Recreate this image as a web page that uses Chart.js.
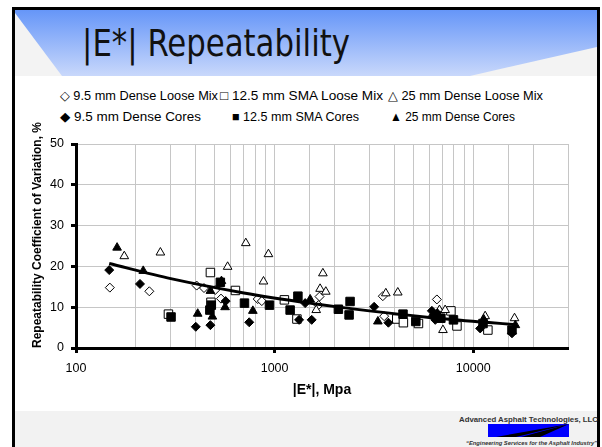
<!DOCTYPE html>
<html><head><meta charset="utf-8">
<script src="https://cdn.jsdelivr.net/npm/chart.js@4.4.1/dist/chart.umd.min.js"></script>
<style>
html,body{margin:0;padding:0;background:#fff;}
#wrap{position:relative;width:602px;height:447px;overflow:hidden;}
#bg,#c{position:absolute;left:0;top:0;}
</style></head><body>
<div id="wrap">
<svg id="bg" width="602" height="447" xmlns="http://www.w3.org/2000/svg">
 <defs><linearGradient id="hg" x1="0" y1="0" x2="0" y2="1">
  <stop offset="0" stop-color="#6696f8"/><stop offset="1" stop-color="#c9d8fb"/></linearGradient></defs>
 <rect x="13.5" y="8.5" width="585" height="460" fill="#fff" stroke="#000" stroke-width="3"/>
 <rect x="15" y="10" width="582" height="66" fill="url(#hg)"/>
 <polygon points="15,13 62,76 15,76" fill="#f3f3f3"/>
 <polygon points="597,47 597,76 470,76" fill="#f3f3f3"/>
 <rect x="15" y="411" width="582" height="40" fill="#f2f2f2"/>
 <text x="82" y="56" font-family="Liberation Sans Narrow, DejaVu Sans Condensed, sans-serif" font-size="38" fill="#111" textLength="268" lengthAdjust="spacingAndGlyphs">|E*| Repeatability</text>
 <g font-family="Liberation Sans, Arial, sans-serif" font-size="13" fill="#000">
  <text x="60" y="100" textLength="158" lengthAdjust="spacingAndGlyphs">◇ 9.5 mm Dense Loose Mix</text>
  <text x="220" y="100" textLength="163" lengthAdjust="spacingAndGlyphs">□ 12.5 mm SMA Loose Mix</text>
  <text x="388" y="100" textLength="155" lengthAdjust="spacingAndGlyphs">△ 25 mm Dense Loose Mix</text>
  <text x="60" y="121" textLength="141" lengthAdjust="spacingAndGlyphs">◆ 9.5 mm Dense Cores</text>
  <text x="232" y="121" textLength="127" lengthAdjust="spacingAndGlyphs">■ 12.5 mm SMA Cores</text>
  <text x="390" y="121" textLength="125" lengthAdjust="spacingAndGlyphs">▲ 25 mm Dense Cores</text>
 </g>
 <text x="598" y="422" text-anchor="end" font-family="Liberation Sans, Arial, sans-serif" font-weight="bold" font-size="8" fill="#333" textLength="139" lengthAdjust="spacingAndGlyphs">Advanced Asphalt Technologies, LLC</text>
 <rect x="488" y="424" width="81" height="13" fill="#0000ff"/>
 <polygon points="496,437 516,437 569,424" fill="#000"/>
 <polygon points="521,437 540,437 569,424" fill="#000"/>
 <text x="466" y="445" font-family="Liberation Sans, Arial, sans-serif" font-weight="bold" font-style="italic" font-size="5.5" fill="#333" textLength="131" lengthAdjust="spacingAndGlyphs">“Engineering Services for the Asphalt Industry”</text>
</svg>
<canvas id="c" width="602" height="447"></canvas>
</div>
<script>
// |E*| (MPa) and repeatability coefficient of variation (%) per series
const looseDense95X = [148, 234, 405, 441, 502, 537, 822, 862, 1663, 1683, 3505, 3560, 6560];
const looseDense95Y = [14.8, 13.9, 15.3, 14.7, 14.2, 12.1, 12.0, 11.5, 10.5, 12.6, 12.7, 7.8, 11.9];

const looseSMA125X = [292, 475, 478, 635, 1120, 1295, 4120, 4450, 5300, 7720, 8280, 11850];
const looseSMA125Y = [8.3, 18.5, 11.2, 14.1, 11.8, 7.1, 7.1, 6.2, 6.0, 9.1, 5.4, 4.4];

const looseDense25X = [175, 266, 580, 716, 879, 931, 1620, 1694, 1750, 1810, 3630, 4170, 6760, 7220, 7040, 11480, 16140];
const looseDense25Y = [22.5, 23.4, 19.9, 25.7, 16.3, 23.0, 9.3, 14.5, 18.3, 13.8, 13.4, 13.6, 9.3, 9.3, 4.4, 7.8, 7.3];

const coresDense95X = [147, 210, 401, 475, 567, 745, 1328, 1425, 1537, 3170, 3740, 6190, 6300, 6440, 10840, 15670];
const coresDense95Y = [19.1, 15.7, 5.2, 5.6, 11.5, 6.3, 6.9, 11.0, 6.9, 10.1, 6.2, 9.1, 8.0, 6.9, 4.8, 3.6];

const coresSMA125X = [301, 472, 480, 533, 705, 942, 1197, 1310, 2094, 2371, 2398, 4430, 5140, 6500, 6870, 7950, 11200, 15670];
const coresSMA125Y = [7.6, 9.3, 10.5, 16.1, 11.0, 10.5, 9.3, 12.7, 9.5, 8.1, 11.4, 8.3, 6.5, 8.0, 7.3, 6.9, 6.0, 4.4];

const coresDense25X = [161, 218, 410, 475, 486, 540, 563, 777, 1510, 3310, 6600, 11300, 16300];
const coresDense25Y = [24.6, 18.9, 8.4, 14.0, 7.7, 16.4, 10.0, 9.1, 11.9, 6.5, 8.5, 7.0, 5.6];

// trend line
const trendX = [147, 300, 700, 1500, 3000, 6000, 12000, 16500];
const trendY = [20.7, 17.0, 13.5, 11.0, 9.1, 7.5, 6.25, 5.7];

const xTickLabels = [100, 1000, 10000];
const yTicks = [0, 10, 20, 30, 40, 50];

const pts = (xs, ys) => xs.map((x, i) => ({x: x, y: ys[i]}));
const FONT = 'Liberation Sans, Arial, sans-serif';

function marker(label, xs, ys, style, filled, r) {
  return {
    label: label, data: pts(xs, ys), showLine: false,
    pointStyle: style, pointRadius: r, pointHoverRadius: r,
    pointBackgroundColor: filled ? '#000' : '#fff',
    pointBorderColor: '#000', pointBorderWidth: 1
  };
}

new Chart(document.getElementById('c'), {
  type: 'scatter',
  data: {
    datasets: [
      {label: 'Trend', data: pts(trendX, trendY), showLine: true, borderColor: '#000', borderWidth: 3,
       pointRadius: 0, tension: 0.3, fill: false},
      marker('25 mm Dense Cores', coresDense25X, coresDense25Y, 'triangle', true, 5),
      marker('12.5 mm SMA Cores', coresSMA125X, coresSMA125Y, 'rect', true, 6),
      marker('9.5 mm Dense Cores', coresDense95X, coresDense95Y, 'rectRot', true, 4.5),
      marker('25 mm Dense Loose Mix', looseDense25X, looseDense25Y, 'triangle', false, 5),
      marker('12.5 mm SMA Loose Mix', looseSMA125X, looseSMA125Y, 'rect', false, 6),
      marker('9.5 mm Dense Loose Mix', looseDense95X, looseDense95Y, 'rectRot', false, 4.5)
    ]
  },
  options: {
    responsive: false, animation: false, devicePixelRatio: 1,
    layout: {padding: {left: 26, right: 34, top: 144, bottom: 44}},
    plugins: {legend: {display: false}, tooltip: {enabled: false}},
    scales: {
      x: {
        type: 'logarithmic', min: 100, max: 30000,
        afterFit: s => { s.height = 55; },
        border: {color: '#000', width: 3},
        grid: {
          color: c => (c.tick && c.tick.value === 100) ? 'rgba(0,0,0,0)' : '#c6c6c6',
          lineWidth: 1, tickLength: 5, tickWidth: 3,
          tickColor: c => (c.tick && xTickLabels.includes(c.tick.value)) ? '#000' : 'rgba(0,0,0,0)'
        },
        ticks: {
          autoSkip: false, maxRotation: 0, minRotation: 0, padding: 8, color: '#000',
          font: {family: FONT, size: 12.5},
          callback: v => xTickLabels.includes(v) ? String(v) : ''
        },
        title: {display: true, text: '|E*|, Mpa', color: '#000',
          font: {family: FONT, size: 14, weight: 'bold'}, padding: {top: 0, bottom: 4}}
      },
      y: {
        min: 0, max: 50,
        afterFit: s => { s.width = 50; },
        afterBuildTicks: s => { s.ticks = yTicks.map(v => ({value: v})); },
        border: {color: '#000', width: 3},
        grid: {
          color: c => (c.tick && c.tick.value === 0) ? 'rgba(0,0,0,0)' : '#c6c6c6',
          lineWidth: 1, tickLength: 5, tickWidth: 3, tickColor: '#000'
        },
        ticks: {padding: 7, color: '#000', font: {family: FONT, size: 12.5}},
        title: {display: true, align: 'start', text: 'Repeatability Coefficient of Variation, %',
          color: '#000', font: {family: FONT, size: 12, weight: 'bold'}, padding: {top: 4, bottom: 4}}
      }
    }
  }
});
</script>
</body></html>
